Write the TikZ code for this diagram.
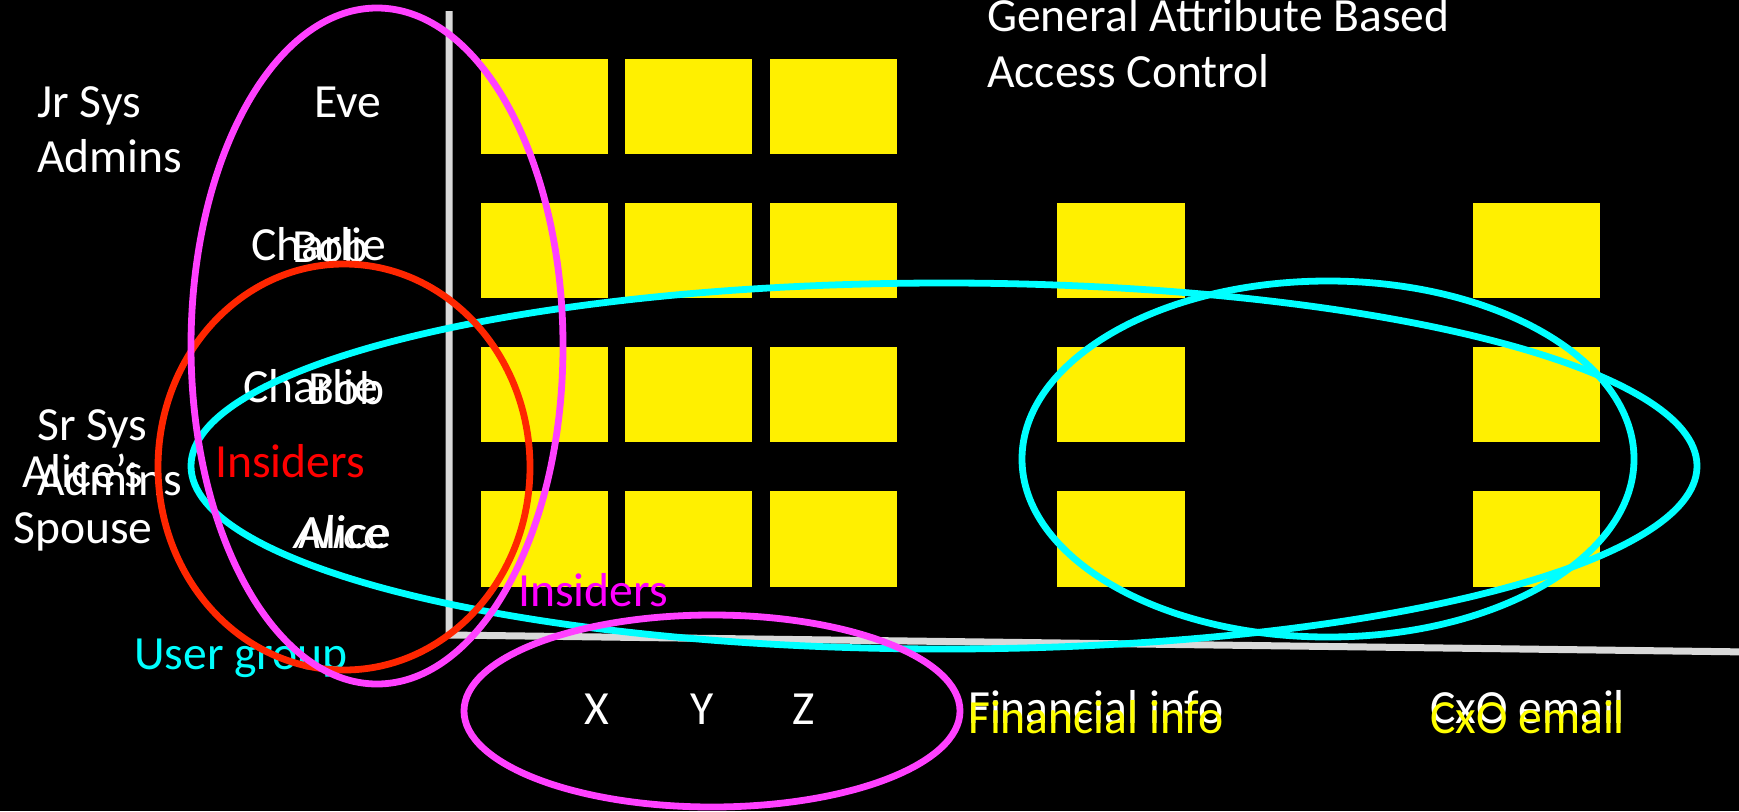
\documentclass[tikz,border=0pt]{standalone}
\usepackage{fontspec}
\setmainfont{Carlito}
\newfontfamily\slantfont[FakeSlant=0.2]{Carlito}
\usepackage{tikz}

\definecolor{cellyellow}{RGB}{255,240,0}
\definecolor{ringmagenta}{RGB}{255,64,255}
\definecolor{ringred}{RGB}{255,38,0}
\definecolor{ringcyan}{RGB}{0,255,255}
\definecolor{axisgray}{RGB}{217,217,217}
\definecolor{textred}{RGB}{255,0,0}
\definecolor{textmagenta}{RGB}{255,0,255}
\definecolor{textcyan}{RGB}{0,255,255}
\definecolor{textyellow}{RGB}{255,255,0}
\newcommand{\lblfont}{\fontsize{47.6}{56}\selectfont}

\begin{document}
\begin{tikzpicture}[x=1pt,y=-1pt,
  every node/.style={inner sep=0pt,font=\lblfont,text=white,anchor=base west},
  cell/.style={fill=cellyellow},
  ring/.style={line width=6.8pt},
  axisline/.style={axisgray,line width=7pt}]

\useasboundingbox (0,0) rectangle (1739,811);

\begin{scope}

\clip (0,0) rectangle (1739,811);

\fill [black] (0,0) rectangle (1739,811);

\fill [cell] (481,59) rectangle (608,154);
\fill [cell] (625,59) rectangle (752,154);
\fill [cell] (770,59) rectangle (897,154);

\fill [cell] (481,203) rectangle (608,298);
\fill [cell] (625,203) rectangle (752,298);
\fill [cell] (770,203) rectangle (897,298);
\fill [cell] (1057,203) rectangle (1185,298);
\fill [cell] (1473,203) rectangle (1600,298);

\fill [cell] (481,347) rectangle (608,442);
\fill [cell] (625,347) rectangle (752,442);
\fill [cell] (770,347) rectangle (897,442);
\fill [cell] (1057,347) rectangle (1185,442);
\fill [cell] (1473,347) rectangle (1600,442);

\fill [cell] (481,491) rectangle (608,587);
\fill [cell] (625,491) rectangle (752,587);
\fill [cell] (770,491) rectangle (897,587);
\fill [cell] (1057,491) rectangle (1185,587);
\fill [cell] (1473,491) rectangle (1600,587);

\draw [axisline] (449,11) -- (449,635) -- (1750,652);

\end{scope}

\node (gen1) at (987,31) {General Attribute Based};
\node (gen2) at (987,87) {Access Control};

\node (jr1) at (37,117) {Jr Sys};
\node (jr2) at (37,172) {Admins};
\node (sr1) at (37,440) {Sr Sys};
\node (sr2) at (37,495) {Admins};
\node [anchor=base] (spouse1) at (83,487) {Alice’s};
\node [anchor=base] (spouse2) at (83,543) {Spouse};

\node (eve) at (314,117) {Eve};
\node (charlieA) at (251,260) {Charlie};
\node (bobA) at (292,262) {Bob};
\node (charlieB) at (243,402) {Charlie};
\node (bobB) at (308,404) {Bob};
\node (aliceI) at (292,548) {\slantfont Alice};
\node (aliceU) at (298,548) {Alice};

\node [text=textred] (insidersR) at (215,477) {Insiders};
\node [text=textmagenta] (insidersM) at (518,606) {Insiders};
\node [text=textcyan] (usergroup) at (134,669) {User group};

\node [anchor=base] (labX) at (597,724) {X};
\node [anchor=base] (labY) at (702,724) {Y};
\node [anchor=base] (labZ) at (804,724) {Z};

\node (finW) at (968,723) {Financial info};
\node [text=textyellow] (finY) at (968,733) {Financial info};
\node (cxoW) at (1430,723) {CxO email};
\node [text=textyellow] (cxoY) at (1430,733) {CxO email};

\begin{scope}

\clip (0,0) rectangle (1739,811);

\draw [ring,ringcyan] (944,466) ellipse [x radius=753, y radius=183];
\draw [ring,ringcyan] (1328,459) ellipse [x radius=306, y radius=178];
\draw [ring,ringred] (344,467) ellipse [x radius=186, y radius=203];
\draw [ring,ringmagenta] (377,346) ellipse [x radius=186, y radius=338];
\draw [ring,ringmagenta] (712,711) ellipse [x radius=248, y radius=96];

\end{scope}

\end{tikzpicture}
\end{document}
